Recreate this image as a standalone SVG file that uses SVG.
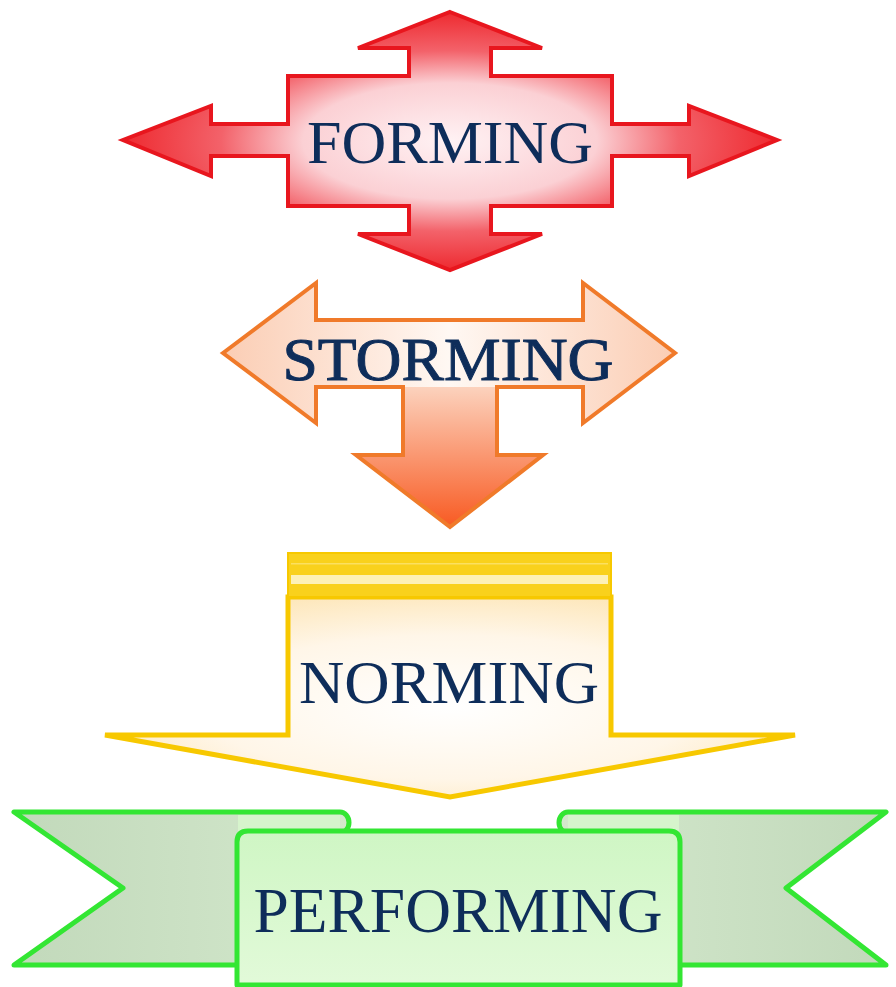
<svg xmlns="http://www.w3.org/2000/svg" width="896" height="987" viewBox="0 0 896 987">
<defs>
<radialGradient id="gF" cx="0.5" cy="0.5" r="0.5">
<stop offset="0" stop-color="#fff2f4"/>
<stop offset="0.45" stop-color="#fbd0d4"/>
<stop offset="0.7" stop-color="#f3626a"/>
<stop offset="1" stop-color="#ee2a30"/>
</radialGradient>
<linearGradient id="gSh" x1="0" y1="0" x2="1" y2="0">
<stop offset="0" stop-color="#fbcdb4"/>
<stop offset="0.5" stop-color="#fff8f3"/>
<stop offset="1" stop-color="#fbcdb4"/>
</linearGradient>
<linearGradient id="gSd" x1="0" y1="0" x2="0" y2="1">
<stop offset="0" stop-color="#fcd2bd"/>
<stop offset="1" stop-color="#f85a22"/>
</linearGradient>
<radialGradient id="gN" cx="0.5" cy="0.55" r="0.6">
<stop offset="0" stop-color="#ffffff"/>
<stop offset="0.6" stop-color="#fff6e8"/>
<stop offset="1" stop-color="#fde6b8"/>
</radialGradient>
<linearGradient id="gT" x1="0" y1="0" x2="1" y2="0">
<stop offset="0" stop-color="#c2d9bb"/>
<stop offset="1" stop-color="#d3e8cc"/>
</linearGradient>
<linearGradient id="gT2" x1="1" y1="0" x2="0" y2="0">
<stop offset="0" stop-color="#c2d9bb"/>
<stop offset="1" stop-color="#d3e8cc"/>
</linearGradient>
<linearGradient id="gP" x1="0" y1="0" x2="0" y2="1">
<stop offset="0" stop-color="#cff6c4"/>
<stop offset="1" stop-color="#e2fad9"/>
</linearGradient>
</defs>
<style>
.lbl{font-family:"Liberation Serif","Times New Roman",serif;font-size:62px;fill:#0e2d5a;text-anchor:middle}
.red{stroke:#e8161e;stroke-width:4;stroke-linejoin:miter}
.org{stroke:#f07a2a;stroke-width:4;stroke-linejoin:miter}
.yel{stroke:#f7c800;stroke-width:5;stroke-linejoin:miter}
.grn{stroke:#33e633;stroke-width:5;stroke-linejoin:round}
</style>
<rect width="896" height="987" fill="#ffffff"/>

<g id="forming">
<path class="red" fill="url(#gF)" d="M450,12 L542,48 L491,48 L491,76 L612,76 L612,124 L689,124 L689,106 L777,140 L689,176 L689,156 L612,156 L612,206 L491,206 L491,234 L542,234 L450,270 L358,234 L409,234 L409,206 L288,206 L288,156 L211,156 L211,176 L123,140 L211,106 L211,124 L288,124 L288,76 L409,76 L409,48 L358,48 Z"/>
<text class="lbl" x="450" y="163" textLength="286" lengthAdjust="spacingAndGlyphs">FORMING</text>
</g>

<g id="storming">
<path fill="url(#gSh)" d="M223,353 L316,283 L316,320 L583,320 L583,283 L675,353 L583,423 L583,387 L316,387 L316,423 Z"/>
<path fill="url(#gSd)" d="M403,387 L497,387 L497,455 L543,455 L450,527 L356,455 L403,455 Z"/>
<path class="org" fill="none" d="M223,353 L316,283 L316,320 L583,320 L583,283 L675,353 L583,423 L583,387 L497,387 L497,455 L543,455 L450,527 L356,455 L403,455 L403,387 L316,387 L316,423 Z"/>
<text class="lbl" x="448" y="380" textLength="331" lengthAdjust="spacingAndGlyphs" style="stroke:#0e2d5a;stroke-width:1">STORMING</text>
</g>

<g id="norming">
<path class="yel" fill="url(#gN)" d="M288,597 L611,597 L611,735 L795,735 L450,797 L105,735 L288,735 Z"/>
<rect x="288" y="553" width="323" height="44" fill="#f9d11c"/>
<rect x="291" y="563" width="317" height="1.5" fill="#fbe060"/>
<rect x="291" y="575" width="317" height="9" fill="#fdf1b6"/>
<rect x="288" y="553" width="323" height="44" fill="none" stroke="#f7c800" stroke-width="2"/>
<text class="lbl" x="449" y="703" textLength="300" lengthAdjust="spacingAndGlyphs">NORMING</text>
</g>

<g id="performing">
<path class="grn" fill="url(#gT)" d="M14,812 L340,812 A9,10.5 0 0 1 340,833 L340,965 L14,965 L123,888 Z"/>
<path class="grn" fill="url(#gT2)" d="M886,812 L568,812 A9,10.5 0 0 0 568,833 L568,965 L886,965 L786,888 Z"/>
<rect x="238" y="815" width="102" height="16" fill="#d6f4cc"/>
<rect x="568" y="815" width="111" height="16" fill="#d6f4cc"/>
<path class="grn" fill="url(#gP)" d="M237,985 L237,842 Q237,831 248,831 L669,831 Q680,831 680,842 L680,985 Z"/>
<text class="lbl" x="458" y="932" textLength="409" lengthAdjust="spacingAndGlyphs" style="font-size:63px">PERFORMING</text>
</g>
</svg>
